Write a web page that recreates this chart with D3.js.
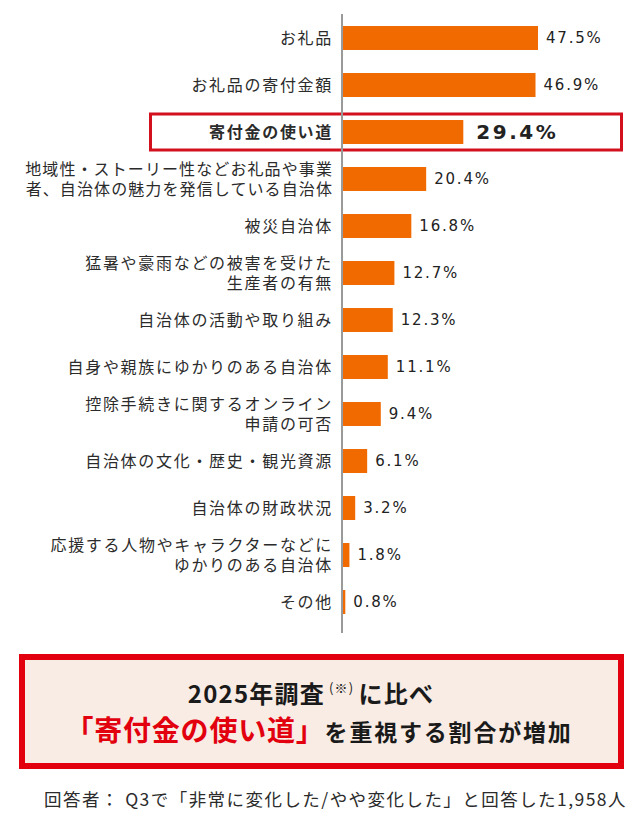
<!DOCTYPE html>
<html>
<head>
<meta charset="utf-8">
<script src="https://cdn.jsdelivr.net/npm/d3@7"></script>
<style>
  body { margin: 0; background: #fff; }
  svg { display: block; font-family: "Noto Sans CJK JP", "Noto Sans", sans-serif; }
</style>
</head>
<body>
<div id="chart"></div>
<script>
// items (top to bottom) and share of respondents, %
var categories = [
    "お礼品",
    "お礼品の寄付金額",
    "寄付金の使い道",
    "地域性・ストーリー性などお礼品や事業\n者、自治体の魅力を発信している自治体",
    "被災自治体",
    "猛暑や豪雨などの被害を受けた\n生産者の有無",
    "自治体の活動や取り組み",
    "自身や親族にゆかりのある自治体",
    "控除手続きに関するオンライン\n申請の可否",
    "自治体の文化・歴史・観光資源",
    "自治体の財政状況",
    "応援する人物やキャラクターなどに\nゆかりのある自治体",
    "その他"
];
var values = [47.5, 46.9, 29.4, 20.4, 16.8, 12.7, 12.3, 11.1, 9.4, 6.1, 3.2, 1.8, 0.8];
var highlight = "寄付金の使い道";

var width = 640,
    height = 822,
    axisX = 342;

var data = categories.map(function(c, i) { return { key: c, value: values[i] }; });

var svg = d3.select("#chart")
    .append("svg")
    .attr("width", width)
    .attr("height", height);

svg.append("rect").attr("width", width).attr("height", height).attr("fill", "#fff");

var x = d3.scaleLinear()
    .domain([0, 50])
    .range([axisX, axisX + 206.3]);

var y = d3.scaleBand()
    .domain(categories)
    .range([14.5, 625.5])
    .paddingInner(0.49)
    .paddingOuter(0.245);

// highlight frame around the 3rd row
var hy = y(highlight) + y.bandwidth() / 2;
svg.append("rect")
    .attr("x", 150.5)
    .attr("y", hy - 18)
    .attr("width", 471)
    .attr("height", 36)
    .attr("fill", "none")
    .attr("stroke", "#d2101e")
    .attr("stroke-width", 3);

// bars
svg.selectAll(".bar")
    .data(data)
    .enter()
    .append("rect")
    .attr("class", "bar")
    .attr("x", x(0))
    .attr("y", function(d) { return y(d.key); })
    .attr("width", function(d) { return x(d.value) - x(0); })
    .attr("height", y.bandwidth())
    .attr("fill", "#f06a00");

// vertical axis line
svg.append("line")
    .attr("x1", axisX).attr("x2", axisX)
    .attr("y1", 14).attr("y2", 633)
    .attr("stroke", "#9a9a9a")
    .attr("stroke-width", 2);

// category labels (some wrap to two lines)
var labels = svg.selectAll(".lab")
    .data(data)
    .enter()
    .append("text")
    .attr("class", "lab")
    .attr("text-anchor", "end")
    .style("font-size", "16px")
    .style("letter-spacing", function(d) { return d.key.indexOf("地域性") === 0 ? "1.1px" : "1.7px"; })
    .style("font-weight", function(d) { return d.key === highlight ? 700 : 400; })
    .attr("fill", "#2b2b2b");

labels.each(function(d) {
    var lines = d.key.split("\n");
    var cy = y(d.key) + y.bandwidth() / 2;
    var t = d3.select(this);
    lines.forEach(function(l, i) {
        t.append("tspan")
            .attr("x", 333)
            .attr("y", cy + (i - (lines.length - 1) / 2) * 19.5)
            .attr("dy", "0.36em")
            .text(l);
    });
});

// value labels
svg.selectAll(".val")
    .data(data)
    .enter()
    .append("text")
    .attr("class", "val")
    .attr("x", function(d) { return x(d.value) + (d.key === highlight ? 13 : 8); })
    .attr("y", function(d) { return y(d.key) + y.bandwidth() / 2; })
    .attr("dy", "0.36em")
    .style("font-family", "'DejaVu Sans', sans-serif")
    .style("font-size", function(d) { return d.key === highlight ? "20px" : "15px"; })
    .style("font-weight", function(d) { return d.key === highlight ? 700 : 400; })
    .style("letter-spacing", function(d) { return d.key === highlight ? "2.5px" : "1.8px"; })
    .attr("fill", "#222")
    .text(function(d) { return d3.format(".1f")(d.value) + "%"; });

// summary box
svg.append("rect")
    .attr("x", 22).attr("y", 657)
    .attr("width", 599).attr("height", 109)
    .attr("fill", "#f8ece4")
    .attr("stroke", "#e2000f")
    .attr("stroke-width", 6);

var t1 = svg.append("text")
    .attr("x", 311).attr("y", 703)
    .attr("text-anchor", "middle")
    .style("font-weight", 700)
    .style("font-size", "24px")
    .style("letter-spacing", "1.2px")
    .attr("fill", "#1a1a1a");
t1.append("tspan").text("2025年調査");
t1.append("tspan").attr("dy", -10).style("font-size", "13px").style("font-weight", 400).text(" (※) ");
t1.append("tspan").attr("dy", 10).text("に比べ");

var t2 = svg.append("text")
    .attr("x", 319).attr("y", 741)
    .attr("text-anchor", "middle")
    .style("font-weight", 700)
    .attr("fill", "#1a1a1a");
t2.append("tspan").style("font-size", "28px").style("letter-spacing", "0.8px").attr("fill", "#e2000f").text("「寄付金の使い道」");
t2.append("tspan").style("font-size", "23px").style("letter-spacing", "1.8px").text("を重視する割合が増加");

// footnote
svg.append("text")
    .attr("x", 44).attr("y", 806)
    .style("font-size", "17.5px")
    .style("letter-spacing", "1.45px")
    .attr("fill", "#2b2b2b")
    .text("回答者：  Q3で「非常に変化した/やや変化した」と回答した1,958人");
</script>
</body>
</html>
